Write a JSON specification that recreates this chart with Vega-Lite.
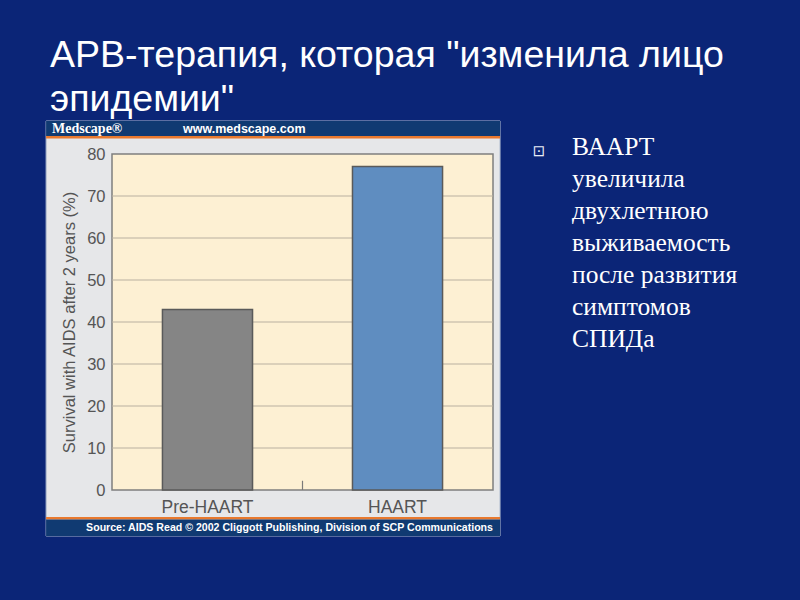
{
  "$schema": "https://vega.github.io/schema/vega-lite/v6.json",
  "autosize": "none",
  "width": 381,
  "height": 336,
  "padding": {"left": 112, "top": 154, "right": 307, "bottom": 110},
  "background": "#0b2577",
  "config": {"view": {"stroke": null}},
  "title": {
    "text": ["АРВ-терапия, которая \"изменила лицо", "эпидемии\""],
    "anchor": "start",
    "frame": "group",
    "dx": -62,
    "offset": 2,
    "font": "Liberation Sans",
    "fontSize": 37.5,
    "fontWeight": "normal",
    "color": "#ffffff",
    "lineHeight": 44
  },
  "resolve": {"scale": {"x": "independent"}, "axis": {"x": "independent", "y": "independent"}},
  "layer": [
    {
      "data": {"values": [{}]},
      "mark": {"type": "rect", "fill": "#e6e7e9", "stroke": "#a9b6cc", "strokeWidth": 1},
      "encoding": {
        "x": {"datum": -0.346, "type": "quantitative", "scale": {"domain": [0, 2]}, "axis": null},
        "x2": {"datum": 2.037},
        "y": {"datum": 87.86, "type": "quantitative", "scale": {"domain": [0, 80], "nice": false}, "axis": null},
        "y2": {"datum": -10.95}
      }
    },
    {
      "data": {"values": [{}]},
      "mark": {"type": "rect", "fill": "#103a72"},
      "encoding": {
        "x": {"datum": -0.346, "type": "quantitative", "scale": {"domain": [0, 2]}, "axis": null},
        "x2": {"datum": 2.037},
        "y": {"datum": 87.86, "type": "quantitative", "scale": {"domain": [0, 80], "nice": false}, "axis": null},
        "y2": {"datum": 84.29}
      }
    },
    {
      "data": {"values": [{}]},
      "mark": {"type": "rect", "fill": "#e8792e"},
      "encoding": {
        "x": {"datum": -0.346, "type": "quantitative", "scale": {"domain": [0, 2]}, "axis": null},
        "x2": {"datum": 2.037},
        "y": {"datum": 84.29, "type": "quantitative", "scale": {"domain": [0, 80], "nice": false}, "axis": null},
        "y2": {"datum": 83.69}
      }
    },
    {
      "data": {"values": [{}]},
      "mark": {"type": "rect", "fill": "#e8792e"},
      "encoding": {
        "x": {"datum": -0.346, "type": "quantitative", "scale": {"domain": [0, 2]}, "axis": null},
        "x2": {"datum": 2.037},
        "y": {"datum": -6.43, "type": "quantitative", "scale": {"domain": [0, 80], "nice": false}, "axis": null},
        "y2": {"datum": -7.02}
      }
    },
    {
      "data": {"values": [{}]},
      "mark": {"type": "rect", "fill": "#103a72"},
      "encoding": {
        "x": {"datum": -0.346, "type": "quantitative", "scale": {"domain": [0, 2]}, "axis": null},
        "x2": {"datum": 2.037},
        "y": {"datum": -7.02, "type": "quantitative", "scale": {"domain": [0, 80], "nice": false}, "axis": null},
        "y2": {"datum": -10.95}
      }
    },
    {
      "data": {"values": [{}]},
      "mark": {"type": "rect", "fill": "#fdf0d3", "stroke": "#7f7f7f", "strokeWidth": 1.5},
      "encoding": {
        "x": {"datum": 0, "type": "quantitative", "scale": {"domain": [0, 2]}, "axis": null},
        "x2": {"datum": 2},
        "y": {"datum": 0, "type": "quantitative", "scale": {"domain": [0, 80], "nice": false}, "axis": null},
        "y2": {"datum": 80}
      }
    },
    {
      "data": {"values": [{"g": 10}, {"g": 20}, {"g": 30}, {"g": 40}, {"g": 50}, {"g": 60}, {"g": 70}]},
      "mark": {"type": "rule", "stroke": "#b9b0a0", "strokeWidth": 1},
      "encoding": {
        "y": {"field": "g", "type": "quantitative", "scale": {"domain": [0, 80], "nice": false}, "axis": null}
      }
    },
    {
      "data": {"values": [{}]},
      "mark": {"type": "rule", "stroke": "#7a7a7a", "strokeWidth": 1.2},
      "encoding": {
        "x": {"datum": 1, "type": "quantitative", "scale": {"domain": [0, 2]}, "axis": null},
        "y": {"datum": 0, "type": "quantitative", "scale": {"domain": [0, 80], "nice": false}, "axis": null},
        "y2": {"datum": 2.2}
      }
    },
    {
      "data": {"values": [{"group": "Pre-HAART", "survival": 43}, {"group": "HAART", "survival": 77}]},
      "mark": {"type": "bar", "stroke": "#5a5a5a", "strokeWidth": 1.5},
      "encoding": {
        "x": {
          "field": "group", "type": "nominal", "sort": null,
          "scale": {"paddingInner": 0.526, "paddingOuter": 0.2655},
          "axis": {"title": null, "labelAngle": 0, "ticks": false, "domain": false, "labelFontSize": 17.5, "labelColor": "#555555", "labelFont": "Liberation Sans", "labelPadding": 8, "zindex": 1}
        },
        "y": {
          "field": "survival", "type": "quantitative",
          "scale": {"domain": [0, 80], "nice": false},
          "axis": {"title": "Survival with AIDS after 2 years (%)", "values": [0, 10, 20, 30, 40, 50, 60, 70, 80], "grid": false, "ticks": false, "domain": false, "labelFontSize": 16.5, "labelColor": "#555555", "labelFont": "Liberation Sans", "labelPadding": 7, "titleFont": "Liberation Sans", "titleFontSize": 16.5, "titleFontWeight": "normal", "titleColor": "#555555", "titlePadding": 9, "zindex": 1}
        },
        "color": {"field": "group", "type": "nominal", "scale": {"domain": ["Pre-HAART", "HAART"], "range": ["#858585", "#5f8dc0"]}, "legend": null}
      }
    },
    {
      "data": {"values": [{"t": "Medscape®"}]},
      "mark": {"type": "text", "font": "Liberation Serif", "fontWeight": "bold", "fontSize": 14, "fill": "#ffffff", "align": "left", "baseline": "alphabetic"},
      "encoding": {
        "x": {"datum": -0.315, "type": "quantitative", "scale": {"domain": [0, 2]}, "axis": null},
        "y": {"datum": 85.0, "type": "quantitative", "scale": {"domain": [0, 80], "nice": false}, "axis": null},
        "text": {"field": "t"}
      }
    },
    {
      "data": {"values": [{"t": "www.medscape.com"}]},
      "mark": {"type": "text", "font": "Liberation Sans", "fontWeight": "bold", "fontSize": 12.5, "fill": "#ffffff", "align": "left", "baseline": "alphabetic"},
      "encoding": {
        "x": {"datum": 0.3727, "type": "quantitative", "scale": {"domain": [0, 2]}, "axis": null},
        "y": {"datum": 85.0, "type": "quantitative", "scale": {"domain": [0, 80], "nice": false}, "axis": null},
        "text": {"field": "t"}
      }
    },
    {
      "data": {"values": [{"t": "Source: AIDS Read  © 2002 Cliggott Publishing, Division of SCP Communications"}]},
      "mark": {"type": "text", "font": "Liberation Sans", "fontWeight": "bold", "fontSize": 10.6, "fill": "#ffffff", "align": "right", "baseline": "alphabetic"},
      "encoding": {
        "x": {"datum": 2.0, "type": "quantitative", "scale": {"domain": [0, 2]}, "axis": null},
        "y": {"datum": -9.76, "type": "quantitative", "scale": {"domain": [0, 80], "nice": false}, "axis": null},
        "text": {"field": "t"}
      }
    },
    {
      "data": {"values": [{"t": "⊡"}]},
      "mark": {"type": "text", "font": "DejaVu Sans", "fontSize": 15, "fill": "#e8ecf5", "align": "center", "baseline": "middle"},
      "encoding": {
        "x": {"datum": 2.2415, "type": "quantitative", "scale": {"domain": [0, 2]}, "axis": null},
        "y": {"datum": 80.71, "type": "quantitative", "scale": {"domain": [0, 80], "nice": false}, "axis": null},
        "text": {"field": "t"}
      }
    },
    {
      "data": {"values": [{"t": "ВААРТ|увеличила|двухлетнюю|выживаемость|после развития|симптомов|СПИДа"}]},
      "mark": {"type": "text", "font": "Liberation Serif", "fontSize": 25.5, "fill": "#ffffff", "align": "left", "baseline": "alphabetic", "lineBreak": "|", "lineHeight": 32},
      "encoding": {
        "x": {"datum": 2.4147, "type": "quantitative", "scale": {"domain": [0, 2]}, "axis": null},
        "y": {"datum": 79.76, "type": "quantitative", "scale": {"domain": [0, 80], "nice": false}, "axis": null},
        "text": {"field": "t"}
      }
    }
  ]
}
